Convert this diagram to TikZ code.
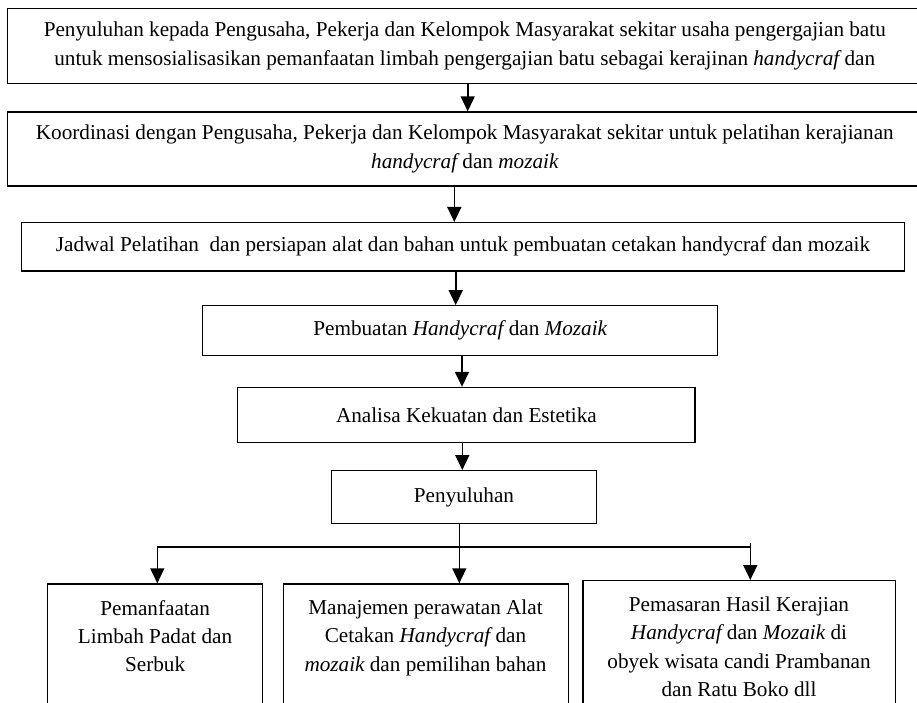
\documentclass[tikz,border=0pt]{standalone}
\usepackage{fontspec}
\setmainfont{Liberation Serif}
\usetikzlibrary{arrows.meta}
\newcommand{\itx}[1]{{\itshape #1}}
\tikzset{
  txt/.style={font=\fontsize{21.2}{28.3}\selectfont, inner sep=0pt, align=center},
  boxn/.style={txt, draw, line width=1.3pt},
  arr/.style={line width=1.6pt, -{Triangle[width=14pt,length=15pt]}},
}
\begin{document}
\begin{tikzpicture}[x=1pt,y=-1pt]
\useasboundingbox (0,0) rectangle (917,703);
\clip (0,0) rectangle (917,703);
% boxes
\node[boxn, minimum width=915pt, minimum height=75pt] (B1) at (464.8,45.8)
 {Penyuluhan kepada Pengusaha, Pekerja dan Kelompok Masyarakat sekitar usaha pengergajian batu\\
  untuk mensosialisasikan pemanfaatan limbah pengergajian batu sebagai kerajinan \itx{handycraf} dan};
\node[boxn, minimum width=915pt, minimum height=74pt] (B2) at (464.8,149)
 {Koordinasi dengan Pengusaha, Pekerja dan Kelompok Masyarakat sekitar untuk pelatihan kerajianan\\
  \itx{handycraf} dan \itx{mozaik}};
\node[boxn, minimum width=882.6pt, minimum height=48.3pt] (B3) at (463,246.8)
 {Jadwal Pelatihan\ \ dan persiapan alat dan bahan untuk pembuatan cetakan handycraf dan mozaik};
\node[boxn, minimum width=515pt, minimum height=50pt] (B4) at (460.2,330.8)
 {Pembuatan \itx{Handycraf} dan \itx{Mozaik}};
\node[boxn, minimum width=457.2pt, minimum height=54.7pt] (B5) at (466.4,414.8)
 {Analisa Kekuatan dan Estetika};
\node[boxn, minimum width=264.6pt, minimum height=53pt] (B6) at (464,497.2)
 {Penyuluhan};
\node[boxn, minimum width=214.8pt, minimum height=150pt, anchor=north] (B7) at (155.1,583.3) {};
\node[boxn, minimum width=284.9pt, minimum height=150pt, anchor=north] (B8) at (425.75,583.3) {};
\node[boxn, minimum width=312.3pt, minimum height=150pt, anchor=north] (B9) at (739.15,580) {};
\node[txt, anchor=base] (T7) at (155.1,615)
 {\begin{tabular}[t]{@{}c@{}}Pemanfaatan\\Limbah Padat dan\\Serbuk\end{tabular}};
\node[txt, anchor=base] (T8) at (425.5,614.5)
 {\begin{tabular}[t]{@{}c@{}}Manajemen perawatan Alat\\Cetakan \itx{Handycraf} dan\\\itx{mozaik} dan pemilihan bahan\end{tabular}};
\node[txt, anchor=base] (T9) at (739,611.5)
 {\begin{tabular}[t]{@{}c@{}}Pemasaran Hasil Kerajian\\\itx{Handycraf} dan \itx{Mozaik} di\\obyek wisata candi Prambanan\\dan Ratu Boko dll\end{tabular}};
% connector x positions
\coordinate (x1) at (467.7,0);
\coordinate (x2) at (454.3,0);
\coordinate (x3) at (455.7,0);
\coordinate (x4) at (462,0);
\coordinate (x5) at (462.3,0);
\coordinate (xm) at (459.3,0);
\coordinate (hl) at (157.3,546.7);
\coordinate (hr) at (750.3,546.7);
\coordinate (hrt) at (750.3,542.7);
% connectors
\draw[arr] (B1.south -| x1) -- (B2.north -| x1);
\draw[arr] (B2.south -| x2) -- (B3.north -| x2);
\draw[arr] (B3.south -| x3) -- (B4.north -| x3);
\draw[arr] (B4.south -| x4) -- (B5.north -| x4);
\draw[arr] (B5.south -| x5) -- (B6.north -| x5);
\draw[arr] (B6.south -| xm) -- (B8.north -| xm);
\draw[arr] (hr) -- (hl) -- (B7.north -| hl);
\draw[arr] (hrt) -- (B9.north -| hr);
\end{tikzpicture}
\end{document}
